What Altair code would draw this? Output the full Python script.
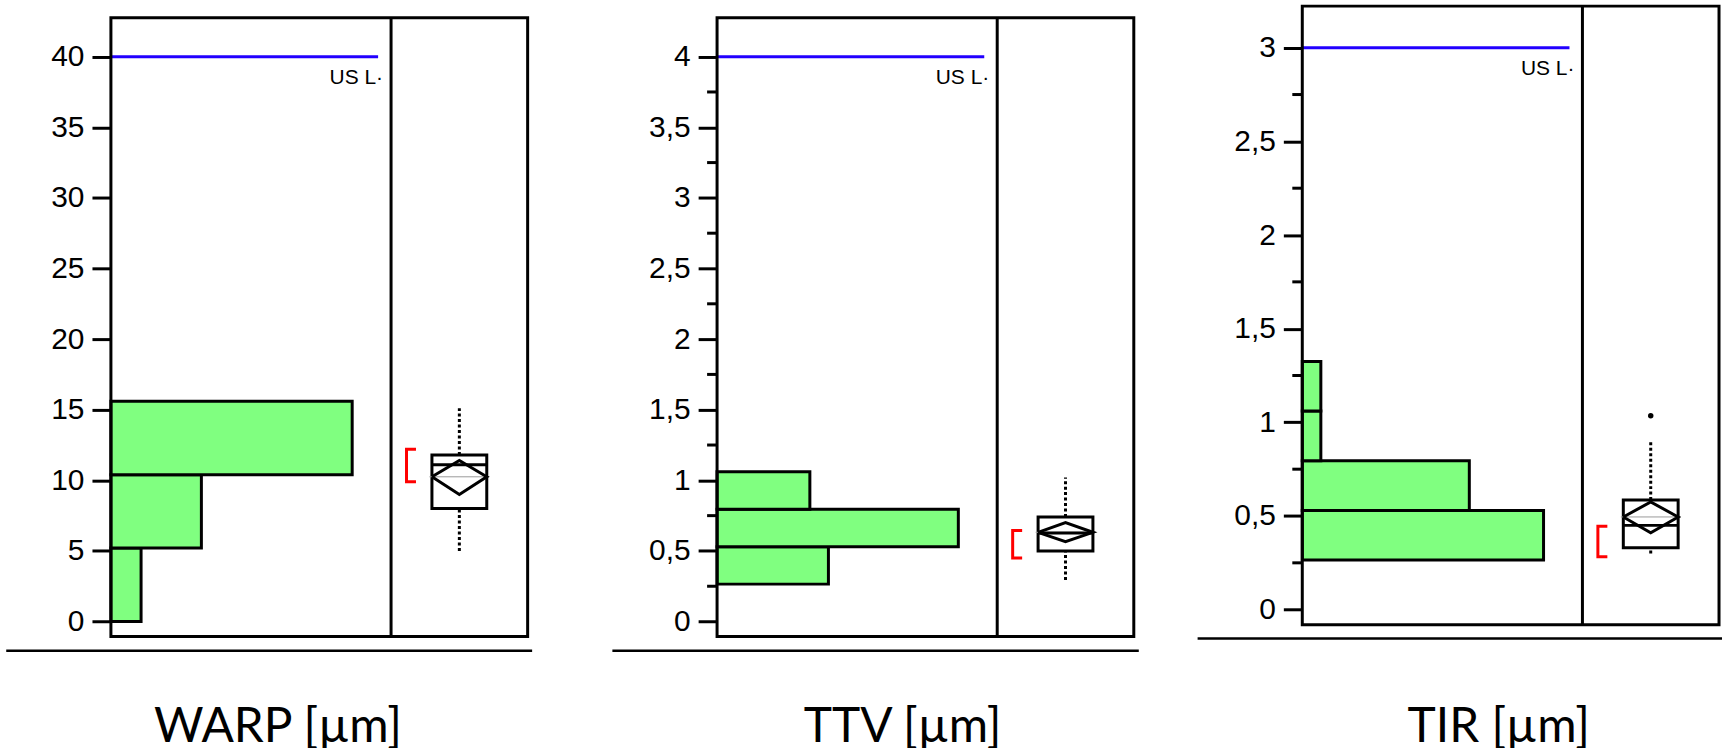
import altair as alt
import pandas as pd

# ---------------- data ----------------
warp_edges = [0, 5.2, 10.4, 15.6]
warp_counts = [1, 3, 8]
ttv_edges = [0.265, 0.53, 0.795, 1.06]
ttv_counts = [6, 13, 5]
tir_edges = [0.265, 0.53, 0.795, 1.06, 1.325]
tir_counts = [13, 9, 1, 1]

# box summaries: lower whisker, Q1, median, Q3, upper whisker
warp_box = [5.0, 8.0, 11.1, 11.8, 15.1]
ttv_box = [0.295, 0.50, 0.627, 0.74, 1.02]
tir_box = [0.30, 0.33, 0.45, 0.585, 0.895]

# means diamond: lower 95% limit, mean, upper 95% limit
warp_mean = [9.0, 10.25, 11.4]
ttv_mean = [0.565, 0.632, 0.70]
tir_mean = [0.41, 0.495, 0.575]

# shortest half
warp_short = [9.9, 12.2]
ttv_short = [0.45, 0.645]
tir_short = [0.283, 0.445]

warp_outliers = []
ttv_outliers = []
tir_outliers = [1.035]

usl_values = [40, 4, 3]
titles = ["WARP [µm]", "TTV [µm]", "TIR [µm]"]

warp_major = [0, 5, 10, 15, 20, 25, 30, 35, 40]
warp_minor = []
ttv_major = [0, 0.5, 1, 1.5, 2, 2.5, 3, 3.5, 4]
ttv_minor = [0.25, 0.75, 1.25, 1.75, 2.25, 2.75, 3.25, 3.75]
tir_major = [0, 0.5, 1, 1.5, 2, 2.5, 3]
tir_minor = [0.25, 0.75, 1.25, 1.75, 2.25, 2.75]

# ---------------- layout (pixels) ----------------
W, H = 418, 620.6          # frame of one panel
HIST_W = 281               # histogram part, left of the divider
BAR_REF = 242              # length of the tallest histogram bar
BOX_C = 349.5              # centre of the box plot
BOX_HW = 27.5              # half width of the box
GREEN = "#80ff80"
BLUE = "#2200ff"
LABEL_FONT = "Liberation Sans"
TITLE_FONT = "Lato"


def panel(edges, counts, box, mean, short, outliers, usl, major, minor,
          y_domain, title, off, right_ext, line_right, line_y, title_x, title_y):
    k = BAR_REF / max(counts)          # pixels per count
    px = lambda p: p / k               # pixel offset -> x-scale value
    xs = alt.Scale(domain=[0, W / k], nice=False, zero=False)
    ys = alt.Scale(domain=y_domain, range=[off + H, off], nice=False, zero=False)
    y_axis = alt.Axis(
        values=major, format="~g",
        labelExpr="replace(datum.label, '.', ',')",
        tickSize=19, tickWidth=3, tickColor="black",
        domain=False, grid=False, title=None,
        labelFont=LABEL_FONT, labelFontSize=30, labelColor="black",
        labelPadding=8, labelFlush=False, labelOverlap=False)
    X = lambda f: alt.X(f, type="quantitative", scale=xs, axis=None)
    Y = lambda f: alt.Y(f, type="quantitative", scale=ys, axis=y_axis)

    hist = pd.DataFrame({
        "lo": edges[:-1], "hi": edges[1:], "n": counts, "base": 0,
    })
    layers = [alt.Chart(hist).mark_bar(
        fill=GREEN, stroke="black", strokeWidth=3, strokeJoin="miter"
    ).encode(x=X("base"), x2="n", y=Y("lo"), y2="hi")]

    if minor:
        layers.append(alt.Chart(pd.DataFrame({"v": minor})).mark_rule(
            color="black", strokeWidth=3
        ).encode(y=Y("v"), x=alt.value(-10), x2=alt.value(0)))

    # specification limit
    usl_df = pd.DataFrame({"y": [usl], "x0": [0], "x1": [px(268)], "xt": [px(273)],
                           "t": ["US L·"]})
    layers.append(alt.Chart(usl_df).mark_rule(color=BLUE, strokeWidth=3).encode(
        x=X("x0"), x2="x1", y=Y("y")))
    layers.append(alt.Chart(usl_df).mark_text(
        align="right", baseline="alphabetic", dy=27.5,
        font=LABEL_FONT, fontSize=21, color="black"
    ).encode(x=X("xt"), y=Y("y"), text="t:N"))

    one = pd.DataFrame({"t": [title]})

    # frame and divider between histogram and box plot
    layers.append(alt.Chart(one).mark_rect(
        fill="white", fillOpacity=0, stroke="black", strokeWidth=3
    ).encode(x=alt.value(0), x2=alt.value(W), y=alt.value(off), y2=alt.value(off + H)))
    layers.append(alt.Chart(pd.DataFrame({"x": [px(HIST_W)]})).mark_rule(
        color="black", strokeWidth=3
    ).encode(x=X("x"), y=alt.value(off), y2=alt.value(off + H)))

    lo_w, q1, med, q3, hi_w = box
    bl, br = px(BOX_C - BOX_HW), px(BOX_C + BOX_HW)
    c = px(BOX_C)

    # whiskers
    wh = pd.DataFrame({"x": [c, c], "y0": [q3, lo_w], "y1": [hi_w, q1]})
    layers.append(alt.Chart(wh).mark_rule(
        color="black", strokeWidth=3, strokeDash=[3, 2.5]
    ).encode(x=X("x"), y=Y("y0"), y2="y1"))

    # box
    layers.append(alt.Chart(pd.DataFrame({"x0": [bl], "x1": [br], "y0": [q1], "y1": [q3]}))
                  .mark_rect(fill="white", fillOpacity=0, stroke="black", strokeWidth=3)
                  .encode(x=X("x0"), x2="x1", y=Y("y0"), y2="y1"))

    # mean reference line (thin) and median
    layers.append(alt.Chart(pd.DataFrame({"x0": [px(BOX_C - 30)], "x1": [px(BOX_C + 30)],
                                          "y": [mean[1]]}))
                  .mark_rule(color="#9a9a9a", strokeWidth=1)
                  .encode(x=X("x0"), x2="x1", y=Y("y")))
    layers.append(alt.Chart(pd.DataFrame({"x0": [bl], "x1": [br], "y": [med]}))
                  .mark_rule(color="black", strokeWidth=3)
                  .encode(x=X("x0"), x2="x1", y=Y("y")))

    # means diamond
    dia = pd.DataFrame({
        "x": [bl, c, br, c, bl],
        "y": [mean[1], mean[2], mean[1], mean[0], mean[1]],
        "o": [0, 1, 2, 3, 4],
    })
    layers.append(alt.Chart(dia).mark_line(
        color="black", strokeWidth=3, strokeJoin="miter"
    ).encode(x=X("x"), y=Y("y"), order="o:Q"))

    # shortest-half bracket
    vx, ax = px(BOX_C - 53), px(BOX_C - 43.5)
    br_df = pd.DataFrame({
        "x": [ax, vx, vx, ax],
        "y": [short[1], short[1], short[0], short[0]],
        "o": [0, 1, 2, 3],
    })
    layers.append(alt.Chart(br_df).mark_line(
        color="#ff0000", strokeWidth=3, strokeJoin="miter"
    ).encode(x=X("x"), y=Y("y"), order="o:Q"))

    if outliers:
        layers.append(alt.Chart(pd.DataFrame({"x": [c] * len(outliers), "y": outliers}))
                      .mark_circle(color="black", size=30, opacity=1)
                      .encode(x=X("x"), y=Y("y")))

    # rule under the panel and the variable name
    layers.append(alt.Chart(one).mark_rule(color="black", strokeWidth=2.5).encode(
        x=alt.value(-105), x2=alt.value(line_right), y=alt.value(line_y)))
    layers.append(alt.Chart(one).mark_text(
        font=TITLE_FONT, fontSize=48, align="center", baseline="alphabetic", color="black"
    ).encode(x=alt.value(title_x), y=alt.value(title_y), text="t:N"))
    # white spacer fixing the panel's outer extent
    layers.append(alt.Chart(one).mark_rule(color="white", strokeWidth=1).encode(
        x=alt.value(0), x2=alt.value(max(right_ext, 1)), y=alt.value(-4.5)))

    return alt.layer(*layers).properties(width=W, height=H)


p1 = panel(warp_edges, warp_counts, warp_box, warp_mean, warp_short, warp_outliers,
           usl_values[0], warp_major, warp_minor, [-1.059, 42.753], titles[0],
           off=11.7, right_ext=499.75, line_right=422.5, line_y=646.7,
           title_x=167.5, title_y=738)
p2 = panel(ttv_edges, ttv_counts, ttv_box, ttv_mean, ttv_short, ttv_outliers,
           usl_values[1], ttv_major, ttv_minor, [-0.1059, 4.2753], titles[1],
           off=11.7, right_ext=479.25, line_right=423, line_y=646.7,
           title_x=186, title_y=738)
p3 = panel(tir_edges, tir_counts, tir_box, tir_mean, tir_short, tir_outliers,
           usl_values[2], tir_major, tir_minor, [-0.081, 3.222], titles[2],
           off=0, right_ext=0, line_right=421, line_y=634.3,
           title_x=197, title_y=738)

chart = alt.hconcat(p1, p2, p3, spacing=0).properties(
    padding={"left": 4.25, "top": 0, "right": 0, "bottom": 0},
    background="white",
).configure_view(strokeWidth=0, stroke=None)

chart.save("out.html", embed_options={"renderer": "svg", "actions": False})
